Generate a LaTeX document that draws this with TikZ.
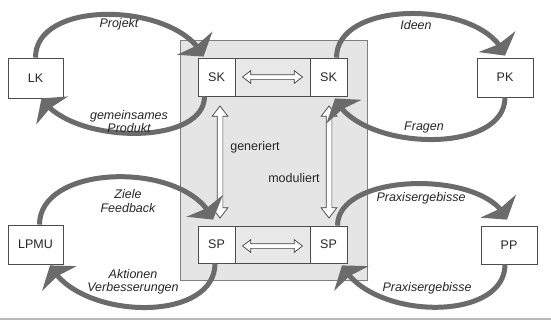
\documentclass[tikz,border=0pt]{standalone}
\usepackage{fontspec}
\setmainfont{Liberation Sans}
\usetikzlibrary{arrows.meta,bending,calc,shapes.arrows}
\begin{document}
\begin{tikzpicture}[x=1pt,y=-1pt,
  every node/.style={font=\fontsize{12.5}{13.5}\selectfont, text=black!85},
  box/.style={draw=black!70, line width=0.8pt, fill=white, inner sep=0pt},
  cell/.style={draw=black!70, line width=0.8pt, fill=gray!18, inner sep=0pt},
  flow/.style={draw=black!58, line width=5pt, -{Stealth[width=42pt,length=16pt,inset=3pt]}},
  lbl/.style={font=\itshape\fontsize{12.5}{13.5}\selectfont, align=center, inner sep=0pt},
  dbl/.style={double arrow, draw=black!75, fill=white, line width=0.7pt, inner sep=0pt, double arrow tip angle=75},
  plain/.style={inner sep=0pt}
]
\useasboundingbox (0,0) rectangle (551,330);
\fill[white] (0,0) rectangle (551,330);
% frame
\node[draw=black!50, fill=gray!20, line width=0.8pt, minimum width=187pt, minimum height=240pt, inner sep=0pt] (frame) at (273.5,160) {};
% outer boxes
\node[box, minimum width=55pt, minimum height=40pt] (lk) at (35.5,78) {LK};
\node[box, minimum width=56pt, minimum height=39pt] (pk) at (505,77.5) {PK};
\node[box, minimum width=55pt, minimum height=39pt] (lpmu) at (35.5,244.5) {LPMU};
\node[box, minimum width=56pt, minimum height=38pt] (pp) at (509,245) {PP};
% strips
\node[cell, minimum width=75pt, minimum height=38pt] (skm) at (272.5,77) {};
\node[box, minimum width=37pt, minimum height=38pt] (skl) at (216.5,77) {SK};
\node[box, minimum width=37pt, minimum height=38pt] (skr) at (328.5,77) {SK};
\node[cell, minimum width=75pt, minimum height=37pt] (spm) at (272.5,244.5) {};
\node[box, minimum width=37pt, minimum height=37pt] (spl) at (216.5,244.5) {SP};
\node[box, minimum width=37pt, minimum height=37pt] (spr) at (328.5,244.5) {SP};
% double arrows
\node[dbl, inner ysep=2pt, double arrow head extend=4pt, minimum height=60pt] (ha) at (skm.center) {};
\node[dbl, inner ysep=2pt, double arrow head extend=4pt, minimum height=60pt] (hb) at ($(spm.center)+(0,1.5)$) {};
\node[dbl, inner ysep=2.5pt, double arrow head extend=5pt, minimum height=112pt, rotate=90] (va) at ($(skl.south)!0.5!(spl.north)+(3.5,1)$) {};
\node[dbl, inner ysep=2.5pt, double arrow head extend=5pt, minimum height=112pt, rotate=90] (vb) at ($(skr.south)!0.5!(spr.north)+(0.5,1)$) {};
\node[plain] (gen) at (255,147) {generiert};
\node[plain] (mod) at (294,178) {moduliert};
% curved flows
\draw[flow] (lk.north) .. controls ($(lk.north)+(0,-60)$) and ($(skl.north)+(-38,-55)$) .. ($(skl.north)+(-13,-1)$);
\draw[flow] ($(skl.south)+(-12,0)$) .. controls ($(skl.south)+(-12,50)$) and ($(lk.south)+(36,46)$) .. ($(lk.south)+(6,0)$);
\draw[flow] ($(skr.north)+(8,0)$) .. controls ($(skr.north)+(8,-60)$) and ($(pk.north)+(-20,-57)$) .. ($(pk.north)+(0,-2)$);
\draw[flow] (pk.south) .. controls ($(pk.south)+(0,58)$) and ($(skr.south)+(31.5,55)$) .. ($(skr.south)+(6.5,2)$);
\draw[flow] ($(lpmu.north)+(4,0)$) .. controls ($(lpmu.north)+(4,-62)$) and ($(spl.north)+(-28.5,-65)$) .. ($(spl.north)+(-3.5,-6)$);
\draw[flow] ($(spl.south)+(-1.5,0)$) .. controls ($(spl.south)+(-1.5,60)$) and ($(lpmu.south)+(44.5,56)$) .. ($(lpmu.south)+(14.5,1)$);
\draw[flow] ($(spr.north)+(9,0)$) .. controls ($(spr.north)+(9,-54)$) and ($(pp.north)+(-22,-56)$) .. ($(pp.north)+(-2,-6)$);
\draw[flow] ($(pp.south)+(-4,0)$) .. controls ($(pp.south)+(-4,58)$) and ($(spr.south)+(43.5,57)$) .. ($(spr.south)+(13.5,2)$);
% labels
\node[lbl] (t1) at (119,24) {Projekt};
\node[lbl] (t2) at (129,121.5) {gemeinsames\\Produkt};
\node[lbl] (t3) at (416,25) {Ideen};
\node[lbl] (t4) at (424,127) {Fragen};
\node[lbl] (t5) at (128,201) {Ziele\\Feedback};
\node[lbl] (t6) at (133,282) {Aktionen\\Verbesserungen};
\node[lbl] (t7) at (421,198) {Praxisergebisse};
\node[lbl] (t8) at (427,288) {Praxisergebisse};
% bottom rule
\coordinate (rl) at (0,319);
\coordinate (rr) at (551,319);
\draw[draw=gray!55, line width=1.2pt] (rl) -- (rr);
\end{tikzpicture}
\end{document}
